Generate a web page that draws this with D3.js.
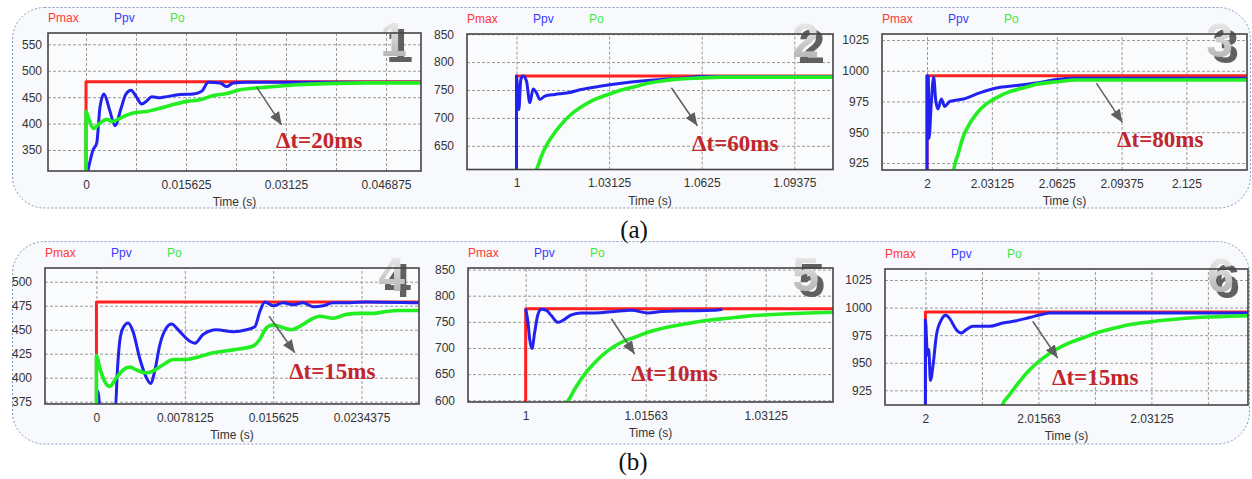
<!DOCTYPE html>
<html>
<head>
<meta charset="utf-8">
<script src="https://cdn.jsdelivr.net/npm/d3@7"></script>
<style>
  body { margin: 0; background: #fff; }
  svg text { font-family: "Liberation Sans", Arial, sans-serif; }
</style>
</head>
<body>
<svg id="chart" width="1252" height="479"></svg>
<script>
const seriesNames = ["Pmax", "Ppv", "Po"];

// ---- panel 1 : step 0 -> 479 W
const p1Pmax = [[0, 300], [0, 479], [0.0525, 479]];
const p1Ppv = [[0.0002, 305], [0.0011, 350], [0.00167, 363], [0.00219, 432], [0.00281, 456], [0.0037, 425], [0.00453, 396],
  [0.0055, 430], [0.0062, 455], [0.00703, 463], [0.0078, 452], [0.0087, 437], [0.0095, 443], [0.01026, 451], [0.01156, 449],
  [0.0126, 451], [0.01469, 455], [0.01677, 456], [0.01807, 461], [0.01911, 478], [0.02094, 477], [0.02198, 470], [0.02302, 477],
  [0.0251, 478], [0.0525, 478]];
const p1Po = [[0, 300], [0, 423], [0.0004, 410], [0.00115, 391], [0.00219, 401], [0.00323, 408], [0.0041, 404], [0.00531, 410],
  [0.00635, 416], [0.0074, 420], [0.00948, 423], [0.01156, 429], [0.01365, 436], [0.01573, 442], [0.01781, 445], [0.0199, 453],
  [0.02198, 457], [0.02406, 464], [0.02615, 467], [0.02823, 469], [0.03135, 472], [0.03344, 474], [0.03865, 476], [0.04385, 477],
  [0.0522, 477]];
const p1XTicks = [0, 0.015625, 0.03125, 0.046875];
const p1XLabels = ["0", "0.015625", "0.03125", "0.046875"];
const p1XGrid = [0, 0.0078125, 0.015625, 0.0234375, 0.03125, 0.0390625, 0.046875];
const p1YTicks = [350, 400, 450, 500, 550];
const p1Arrow = [[0.02667, 469], [0.03057, 397.5]];
const p1NoteAt = [0.02969, 353];
const p1Note = "\u0394t=20ms";

// ---- panel 2 : step 479 -> 775 W
const p2Pmax = [[1, 600], [1, 775], [1.1068, 775]];
const p2Ppv = [[1, 600], [1, 775], [1.00079, 715], [1.00146, 769], [1.00225, 775], [1.00337, 766], [1.0045, 727], [1.00562, 752],
  [1.00674, 745], [1.00787, 733], [1.00955, 739], [1.01293, 742], [1.01742, 745], [1.02192, 751], [1.02866, 757], [1.0354, 762],
  [1.04215, 766], [1.04889, 769], [1.05564, 771], [1.06238, 774], [1.07362, 774], [1.1068, 774]];
const p2Po = [[1.006, 600], [1.00674, 607], [1.00843, 632], [1.01068, 656], [1.01293, 674], [1.01518, 689], [1.01855, 707],
  [1.02192, 720], [1.02642, 733], [1.03091, 742], [1.0354, 750], [1.0399, 756], [1.0444, 762], [1.0489, 766], [1.0534, 769],
  [1.0601, 771], [1.0691, 773], [1.1068, 773]];
const p2XTicks = [1, 1.03125, 1.0625, 1.09375];
const p2XLabels = ["1", "1.03125", "1.0625", "1.09375"];
const p2XGrid = [1, 1.03125, 1.0625, 1.09375];
const p2YTicks = [650, 700, 750, 800, 850];
const p2Arrow = [[1.05227, 754], [1.06104, 686]];
const p2NoteAt = [1.05924, 641];
const p2Note = "\u0394t=60ms";

// ---- panel 3 : step 775 -> 996 W
const p3Pmax = [[2, 900], [2, 996], [2.1542, 996]];
const p3Ppv = [[2, 900], [2, 996], [2.00064, 995], [2.00096, 945], [2.00209, 975], [2.00321, 995], [2.00418, 976], [2.0053, 969],
  [2.00691, 977], [2.00852, 971], [2.01093, 975], [2.01735, 977], [2.02539, 982], [2.03342, 986], [2.04306, 988], [2.0527, 990],
  [2.06234, 993], [2.07037, 994], [2.08162, 994], [2.1542, 994]];
const p3Po = [[2.0125, 900], [2.01285, 919], [2.01494, 932], [2.01735, 946], [2.02057, 957], [2.02378, 965], [2.0286, 973],
  [2.03342, 978], [2.03985, 983], [2.04627, 986], [2.0527, 989], [2.06234, 991], [2.07198, 992.5], [2.08162, 992.5], [2.1542, 992.5]];
const p3XTicks = [2, 2.03125, 2.0625, 2.09375, 2.125];
const p3XLabels = ["2", "2.03125", "2.0625", "2.09375", "2.125"];
const p3XGrid = [2, 2.03125, 2.0625, 2.09375, 2.125];
const p3YTicks = [925, 950, 975, 1000, 1025];
const p3Arrow = [[2.08162, 990], [2.09415, 958]];
const p3NoteAt = [2.09158, 937.6];
const p3Note = "\u0394t=80ms";

// ---- panel 4 : step 0 -> 479 W (improved)
const p4Pmax = [[0, 370], [0, 479], [0.0286, 479]];
const p4Ppv = [[0, 370], [0.00015, 386], [0.0003, 370], [0.0017, 372], [0.00183, 403], [0.00206, 438], [0.00236, 452], [0.0028, 457],
  [0.00324, 448], [0.00383, 420], [0.00442, 400], [0.00478, 394], [0.00516, 407], [0.0056, 434], [0.00619, 452], [0.00663, 456],
  [0.00737, 448], [0.00825, 438], [0.0087, 436], [0.00943, 445], [0.01061, 450], [0.01209, 448], [0.01327, 450], [0.014, 453],
  [0.01445, 469], [0.01489, 479], [0.01562, 475], [0.01651, 478], [0.01739, 476], [0.01828, 478], [0.01916, 474], [0.02005, 475],
  [0.02093, 478], [0.0224, 478], [0.02388, 479], [0.0286, 478]];
const p4Po = [[0, 370], [0, 423], [0.0003, 410], [0.00074, 396], [0.00118, 391], [0.00177, 400], [0.00236, 408], [0.00295, 411],
  [0.00354, 408], [0.00442, 405], [0.00501, 407], [0.0059, 413.5], [0.00678, 419], [0.00796, 419], [0.00914, 422], [0.01032, 426],
  [0.01209, 429], [0.01386, 433], [0.01445, 440], [0.01503, 452], [0.01562, 455], [0.01651, 452], [0.01725, 450], [0.01798, 453.5],
  [0.01887, 460], [0.01975, 464], [0.02093, 462], [0.02211, 466], [0.02329, 467], [0.02447, 467], [0.02565, 469], [0.02683, 470],
  [0.0286, 470]];
const p4XTicks = [0, 0.0078125, 0.015625, 0.0234375];
const p4XLabels = ["0", "0.0078125", "0.015625", "0.0234375"];
const p4XGrid = [0, 0.0078125, 0.015625, 0.0234375];
const p4YTicks = [375, 400, 425, 450, 475, 500];
const p4Arrow = [[0.01527, 464], [0.01754, 426]];
const p4NoteAt = [0.01704, 399];
const p4Note = "\u0394t=15ms";

// ---- panel 5 : step 479 -> 775 W (improved)
const p5Pmax = [[1, 590], [1, 775], [1.0401, 775]];
const p5Ppv = [[1, 775], [1.0003, 749], [1.00052, 717], [1.00082, 699], [1.00117, 730], [1.00161, 765], [1.00204, 774],
  [1.00269, 772], [1.00334, 762], [1.00421, 749], [1.00486, 753], [1.00595, 763.5], [1.00725, 767], [1.00898, 767], [1.01159, 770],
  [1.01376, 772], [1.01593, 767], [1.01766, 770], [1.02027, 771], [1.02461, 772], [1.0256, 774]];
const p5Po = [[1.005, 590], [1.00543, 597], [1.00638, 621], [1.00768, 650], [1.00898, 672], [1.01072, 695], [1.01246, 711],
  [1.01419, 720.5], [1.01593, 730], [1.01853, 740], [1.02114, 747], [1.02374, 753], [1.02634, 757], [1.02895, 761], [1.03155, 763.5],
  [1.03416, 765.5], [1.03676, 767], [1.0401, 768.5]];
const p5XTicks = [1, 1.015625, 1.03125];
const p5XLabels = ["1", "1.01563", "1.03125"];
const p5XGrid = [1, 1.0078125, 1.015625, 1.0234375, 1.03125];
const p5YTicks = [600, 650, 700, 750, 800, 850];
const p5Arrow = [[1.01115, 756], [1.01419, 688.5]];
const p5NoteAt = [1.01376, 636];
const p5Note = "\u0394t=10ms";

// ---- panel 6 : step 775 -> 996 W (improved)
const p6Pmax = [[2, 900], [2, 996], [2.0446, 996]];
const p6Ppv = [[2, 900], [2, 989], [2.00028, 957], [2.00046, 962], [2.00069, 934], [2.00106, 948], [2.00152, 975], [2.00221, 989],
  [2.0028, 993], [2.00336, 990], [2.00427, 980], [2.00496, 977], [2.00565, 980], [2.00657, 983], [2.00887, 983], [2.01071, 986],
  [2.01255, 988], [2.01439, 991], [2.01622, 994], [2.01714, 995], [2.0446, 995]];
const p6Po = [[2.01, 900], [2.01062, 911.7], [2.01163, 921], [2.01301, 933], [2.01439, 943.5], [2.01622, 954], [2.01806, 962],
  [2.0199, 968], [2.02174, 972.4], [2.02358, 977], [2.02588, 981], [2.02817, 984.5], [2.03093, 987], [2.03369, 989], [2.03645, 990.6],
  [2.0392, 991.5], [2.04196, 992.1], [2.0446, 992.7]];
const p6XTicks = [2, 2.015625, 2.03125];
const p6XLabels = ["2", "2.01563", "2.03125"];
const p6XGrid = [2, 2.0078125, 2.015625, 2.0234375, 2.03125, 2.0390625];
const p6YTicks = [925, 950, 975, 1000, 1025];
const p6Arrow = [[2.01484, 987.6], [2.01829, 954.2]];
const p6NoteAt = [2.01751, 929.9];
const p6Note = "\u0394t=15ms";

const colors = { Pmax: "#ff2020", Ppv: "#2222f0", Po: "#22ee22" };
const legendColors = { Pmax: "#ff3838", Ppv: "#3a3aff", Po: "#3ee83e" };
const widths = { Pmax: 3, Ppv: 3, Po: 3.6 };

// layout of each plot box (pixel frame + visible axis range)
const panels = [
  { id: 1, x0: 48, x1: 421, y0: 33, y1: 171, xd: [-0.00594, 0.05234], yd: [310.3, 571.4], ygap: 6,
    series: [p1Pmax, p1Ppv, p1Po], xt: p1XTicks, xl: p1XLabels, xg: p1XGrid, yt: p1YTicks, arrow: p1Arrow, noteAt: p1NoteAt, note: p1Note },
  { id: 2, x0: 467, x1: 833, y0: 34, y1: 169.5, xd: [0.9833, 1.1068], yd: [607.6, 850.3], ygap: 13,
    series: [p2Pmax, p2Ppv, p2Po], xt: p2XTicks, xl: p2XLabels, xg: p2XGrid, yt: p2YTicks, arrow: p2Arrow, noteAt: p2NoteAt, note: p2Note },
  { id: 3, x0: 882, x1: 1247, y0: 34, y1: 170, xd: [1.9783, 2.1542], yd: [919.3, 1029.9], ygap: 13,
    series: [p3Pmax, p3Ppv, p3Po], xt: p3XTicks, xl: p3XLabels, xg: p3XGrid, yt: p3YTicks, arrow: p3Arrow, noteAt: p3NoteAt, note: p3Note },
  { id: 4, x0: 45, x1: 419, y0: 268, y1: 404, xd: [-0.004548, 0.02852], yd: [372.6, 514.3], ygap: 13,
    series: [p4Pmax, p4Ppv, p4Po], xt: p4XTicks, xl: p4XLabels, xg: p4XGrid, yt: p4YTicks, arrow: p4Arrow, noteAt: p4NoteAt, note: p4Note },
  { id: 5, x0: 468, x1: 833, y0: 268, y1: 402, xd: [0.99249, 1.04001], yd: [596.7, 853], ygap: 13,
    series: [p5Pmax, p5Ppv, p5Po], xt: p5XTicks, xl: p5XLabels, xg: p5XGrid, yt: p5YTicks, arrow: p5Arrow, noteAt: p5NoteAt, note: p5Note },
  { id: 6, x0: 885, x1: 1248, y0: 269, y1: 405, xd: [1.99441, 2.04461], yd: [911.7, 1035], ygap: 13,
    series: [p6Pmax, p6Ppv, p6Po], xt: p6XTicks, xl: p6XLabels, xg: p6XGrid, yt: p6YTicks, arrow: p6Arrow, noteAt: p6NoteAt, note: p6Note }
];

const svg = d3.select("#chart");
const defs = svg.append("defs");

const grad = defs.append("linearGradient").attr("id", "digitGrad")
  .attr("x1", 0).attr("y1", 0).attr("x2", 0).attr("y2", 1);
grad.append("stop").attr("offset", "0%").attr("stop-color", "#f4f4f4");
grad.append("stop").attr("offset", "100%").attr("stop-color", "#a9a9a9");

// dark extruded look behind the panel digits
const shadow = defs.append("filter").attr("id", "digitShadow")
  .attr("x", "-20%").attr("y", "-20%").attr("width", "160%").attr("height", "160%");
shadow.append("feOffset").attr("in", "SourceAlpha").attr("dx", 6).attr("dy", 6).attr("result", "off");
shadow.append("feFlood").attr("flood-color", "#606060").attr("result", "col");
shadow.append("feComposite").attr("in", "col").attr("in2", "off").attr("operator", "in").attr("result", "sh");
const merge = shadow.append("feMerge");
merge.append("feMergeNode").attr("in", "sh");
merge.append("feMergeNode").attr("in", "SourceGraphic");

defs.append("marker").attr("id", "arrowHead")
  .attr("viewBox", "0 0 12 10").attr("refX", 12).attr("refY", 5)
  .attr("markerWidth", 13).attr("markerHeight", 11).attr("markerUnits", "userSpaceOnUse")
  .attr("orient", "auto")
  .append("path").attr("d", "M0,0 L12,5 L0,10 Z").attr("fill", "#5e5e5e");

// outer rounded dotted frames
svg.append("rect").attr("x", 12.5).attr("y", 7.5).attr("width", 1238).attr("height", 200.5)
  .attr("rx", 32).attr("fill", "#f8f9fc").attr("stroke", "#8196bd").attr("stroke-dasharray", "2,2");
svg.append("rect").attr("x", 12.5).attr("y", 241.5).attr("width", 1237).attr("height", 202.5)
  .attr("rx", 32).attr("fill", "#f8f9fc").attr("stroke", "#8196bd").attr("stroke-dasharray", "2,2");

svg.append("text").attr("x", 634).attr("y", 238).attr("text-anchor", "middle")
  .style("font-family", "'Liberation Serif', 'Times New Roman', serif").style("font-size", "25px").attr("fill", "#111").text("(a)");
svg.append("text").attr("x", 633).attr("y", 470).attr("text-anchor", "middle")
  .style("font-family", "'Liberation Serif', 'Times New Roman', serif").style("font-size", "25px").attr("fill", "#111").text("(b)");

function drawPanel(p) {
  const w = p.x1 - p.x0, h = p.y1 - p.y0;
  const x = d3.scaleLinear().domain(p.xd).range([0, w]);
  const y = d3.scaleLinear().domain(p.yd).range([h, 0]);
  const g = svg.append("g").attr("transform", `translate(${p.x0},${p.y0})`);

  defs.append("clipPath").attr("id", "clip" + p.id)
    .append("rect").attr("width", w).attr("height", h);

  g.append("rect").attr("width", w).attr("height", h).attr("fill", "#fafbfd");

  // grid
  g.append("g").attr("transform", `translate(0,${h})`)
    .call(d3.axisBottom(x).tickValues(p.xg).tickSize(-h).tickFormat(""))
    .call(s => s.select(".domain").remove())
    .selectAll("line").attr("stroke", "#9a9a9a").attr("stroke-dasharray", "3,2");
  g.append("g")
    .call(d3.axisLeft(y).tickValues(p.yt).tickSize(-w).tickFormat(""))
    .call(s => s.select(".domain").remove())
    .selectAll("line").attr("stroke", "#9a9a9a").attr("stroke-dasharray", "3,2");

  // tick labels
  const xa = g.append("g").attr("transform", `translate(0,${h})`)
    .call(d3.axisBottom(x).tickValues(p.xt).tickSize(0).tickPadding(9).tickFormat((d, i) => p.xl[i]));
  xa.select(".domain").remove();
  xa.selectAll("text").style("font-size", "12px").attr("fill", "#333");
  const ya = g.append("g")
    .call(d3.axisLeft(y).tickValues(p.yt).tickSize(0).tickPadding(p.ygap).tickFormat(d3.format("d")));
  ya.select(".domain").remove();
  ya.selectAll("text").style("font-size", "12px").attr("fill", "#333");

  g.append("text").attr("x", w / 2).attr("y", h + 35).attr("text-anchor", "middle")
    .style("font-size", "12px").attr("fill", "#333").text("Time (s)");

  // legend
  const legendX = [0, 66, 122];
  seriesNames.forEach((name, i) => {
    g.append("text").attr("x", legendX[i]).attr("y", -11)
      .style("font-size", "12px").attr("fill", legendColors[name]).text(name);
  });

  // panel number
  g.append("text").attr("x", w - 14).attr("y", 23).attr("text-anchor", "end")
    .style("font-size", "48px").style("font-weight", "bold")
    .attr("fill", "url(#digitGrad)").attr("filter", "url(#digitShadow)").text(p.id);

  // curves: reference step drawn straight, measured signals smoothed
  const stepLine = d3.line().x(d => x(d[0])).y(d => y(d[1]));
  const smoothLine = d3.line().x(d => x(d[0])).y(d => y(d[1])).curve(d3.curveMonotoneX);
  const lines = g.append("g").attr("clip-path", `url(#clip${p.id})`);
  seriesNames.forEach((name, i) => {
    lines.append("path").datum(p.series[i])
      .attr("fill", "none").attr("stroke", colors[name]).attr("stroke-width", widths[name])
      .attr("stroke-linejoin", "round").attr("d", i === 0 ? stepLine : smoothLine);
  });

  g.append("rect").attr("width", w).attr("height", h).attr("fill", "none")
    .attr("stroke", "#454545").attr("stroke-width", 1.6);

  // annotation
  g.append("line")
    .attr("x1", x(p.arrow[0][0])).attr("y1", y(p.arrow[0][1]))
    .attr("x2", x(p.arrow[1][0])).attr("y2", y(p.arrow[1][1]))
    .attr("stroke", "#5e5e5e").attr("stroke-width", 1.5).attr("marker-end", "url(#arrowHead)");
  g.append("text").attr("x", x(p.noteAt[0])).attr("y", y(p.noteAt[1]))
    .style("font-family", "'Liberation Serif', 'Times New Roman', serif")
    .style("font-size", "23px").style("font-weight", "bold").attr("fill", "#c0262c").text(p.note);
}

panels.forEach(drawPanel);
</script>
</body>
</html>
